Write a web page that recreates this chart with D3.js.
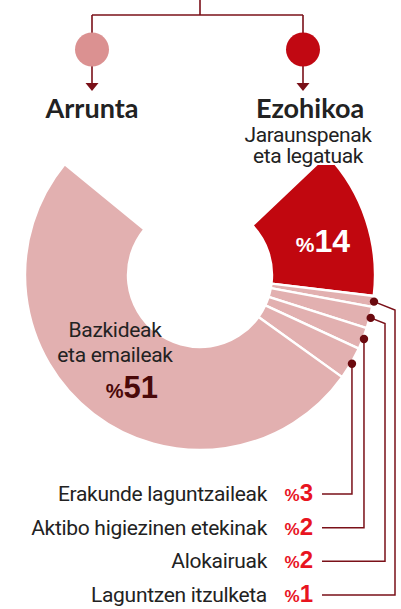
<!DOCTYPE html>
<html>
<head>
<meta charset="utf-8">
<script src="https://cdn.jsdelivr.net/npm/d3@7"></script>
<style>
  body { margin: 0; background: #fff; }
  svg { display: block; }
</style>
</head>
<body>
<script>
// data
var groups = ['Arrunta', 'Ezohikoa'];
var groupSub = ['', 'Jaraunspenak|eta legatuak'];
var slices = ['Jaraunspenak eta legatuak', 'Laguntzen itzulketa', 'Alokairuak', 'Aktibo higiezinen etekinak', 'Erakunde laguntzaileak', 'Bazkideak eta emaileak'];
var values = [14, 1, 2, 2, 3, 51];

var W = 401, H = 609;
var cx = 200, cy = 275, rIn = 72, rOut = 175;
var light = 'Roboto, sans-serif';
var numFont = '"Liberation Sans", Arial, sans-serif';
var lineCol = '#7a1018', red = '#c1070f', pink = '#e2b0b0';

var svg = d3.select('body').append('svg')
    .attr('width', W)
    .attr('height', H);

// top branches
var gx = d3.scalePoint().domain(groups).range([92, 303]);
var tree = svg.append('g').attr('stroke', lineCol).attr('stroke-width', 1.6).attr('fill', 'none');
tree.append('line').attr('x1', 200).attr('x2', 200).attr('y1', 0).attr('y2', 15);
tree.append('line').attr('x1', gx('Arrunta')).attr('x2', gx('Ezohikoa')).attr('y1', 15).attr('y2', 15);
groups.forEach(function(g) {
    tree.append('line').attr('x1', gx(g)).attr('x2', gx(g)).attr('y1', 15).attr('y2', 33);
    tree.append('line').attr('x1', gx(g)).attr('x2', gx(g)).attr('y1', 66).attr('y2', 84);
});
svg.selectAll('.bubble').data(groups).enter().append('circle')
    .attr('cx', function(d) { return gx(d) })
    .attr('cy', 49.5)
    .attr('r', 17)
    .attr('fill', function(d, i) { return i == 0 ? '#db9191' : '#c10812' });
svg.selectAll('.arrow').data(groups).enter().append('path')
    .attr('d', function(d) { var x = gx(d); return 'M' + (x - 6.5) + ',83L' + (x + 6.5) + ',83L' + x + ',91Z' })
    .attr('fill', lineCol);

svg.selectAll('.title').data(groups).enter().append('text')
    .attr('x', function(d, i) { return gx(d) + (i == 1 ? 7 : 0) })
    .attr('y', 118)
    .attr('text-anchor', 'middle')
    .style('font-family', 'Lato, sans-serif')
    .style('font-weight', 700)
    .style('font-size', '27px')
    .attr('fill', '#222')
    .text(function(d) { return d });

//setup pie
var deg = Math.PI / 180;
var start = 46.5 * deg;
var pie = d3.pie().sort(null)
    .startAngle(start)
    .endAngle(start + d3.sum(values) / 100 * 2 * Math.PI);
var arcs = pie(values);
var arc = d3.arc().innerRadius(rIn).outerRadius(rOut);

var donut = svg.append('g').attr('transform', 'translate(' + cx + ',' + cy + ')');
donut.selectAll('path').data(arcs).enter().append('path')
    .attr('d', arc)
    .attr('fill', function(d, i) { return i == 0 ? red : pink })
    .attr('stroke', '#fff')
    .attr('stroke-width', 2.4)
    .attr('stroke-linejoin', 'bevel');

// sub label over the red tip, with a white box so the tip tucks under it
var sub = groupSub[1].split('|');
var subText = svg.append('text')
    .attr('text-anchor', 'middle')
    .style('font-family', light)
    .style('font-size', '21px')
    .style('letter-spacing', '-0.4px')
    .attr('fill', '#222');
sub.forEach(function(s, i) {
    subText.append('tspan').attr('x', 308).attr('y', 142 + i * 21).text(s);
});
var bb = subText.node().getBBox();
svg.insert('rect', function() { return subText.node() })
    .attr('x', bb.x - 2).attr('y', 146)
    .attr('width', bb.width + 4).attr('height', 19)
    .attr('fill', '#fff');

// inside labels
var pct14 = svg.append('text')
    .attr('x', 350).attr('y', 252)
    .attr('text-anchor', 'end')
    .style('font-family', numFont)
    .style('font-weight', 700)
    .attr('fill', '#fff');
pct14.append('tspan').style('font-size', '21px').text('%');
pct14.append('tspan').style('font-size', '32px').text(values[0]);

var baz = slices[5].replace(' eta', '|eta').split('|');
var bazText = svg.append('text')
    .attr('text-anchor', 'middle')
    .style('font-family', light)
    .style('font-size', '21px')
    .style('letter-spacing', '-0.3px')
    .attr('fill', '#222');
baz.forEach(function(s, i) {
    bazText.append('tspan').attr('x', 115).attr('y', 337 + i * 25).text(s);
});
var pct51 = svg.append('text')
    .attr('x', 158).attr('y', 398)
    .attr('text-anchor', 'end')
    .style('font-family', numFont)
    .style('font-weight', 700)
    .attr('fill', '#4a0909');
pct51.append('tspan').style('font-size', '20px').text('%');
pct51.append('tspan').style('font-size', '31px').text(values[5]);

// small slices with leader lines
var small = arcs.slice(1, 5);
var rows = small.map(function(d) { return slices[d.index] }).reverse();
var yRow = d3.scalePoint().domain(rows).range([501, 602]);

small.forEach(function(d, k) {
    var mid = (d.startAngle + d.endAngle) / 2;
    var px = cx + (rOut + 1) * Math.sin(mid),
        py = cy - (rOut + 1) * Math.cos(mid);
    var vx = k < 2 ? 395 - 10 * k : px;
    var by = py + (vx - px) * 0.4;
    var ly = yRow(slices[d.index]) - 7;
    svg.append('path')
        .attr('d', 'M' + px + ',' + py + 'L' + vx + ',' + by + 'L' + vx + ',' + ly + 'L322,' + ly)
        .attr('fill', 'none')
        .attr('stroke', lineCol)
        .attr('stroke-width', 1.5);
    svg.append('circle')
        .attr('cx', px).attr('cy', py).attr('r', 4.2)
        .attr('fill', '#6b0a0f');
});

svg.selectAll('.lbl').data(rows).enter().append('text')
    .attr('x', 267)
    .attr('y', function(d) { return yRow(d) })
    .attr('text-anchor', 'end')
    .style('font-family', light)
    .style('font-size', '21px')
    .style('letter-spacing', '-0.3px')
    .attr('fill', '#222')
    .text(function(d) { return d });

var pcts = svg.selectAll('.pct').data(rows).enter().append('text')
    .attr('x', 313)
    .attr('y', function(d) { return yRow(d) })
    .attr('text-anchor', 'end')
    .style('font-family', numFont)
    .style('font-weight', 700)
    .attr('fill', '#e8141f');
pcts.append('tspan').style('font-size', '17px').text('%');
pcts.append('tspan').style('font-size', '24px').text(function(d) { return values[slices.indexOf(d)] });
</script>
</body>
</html>
